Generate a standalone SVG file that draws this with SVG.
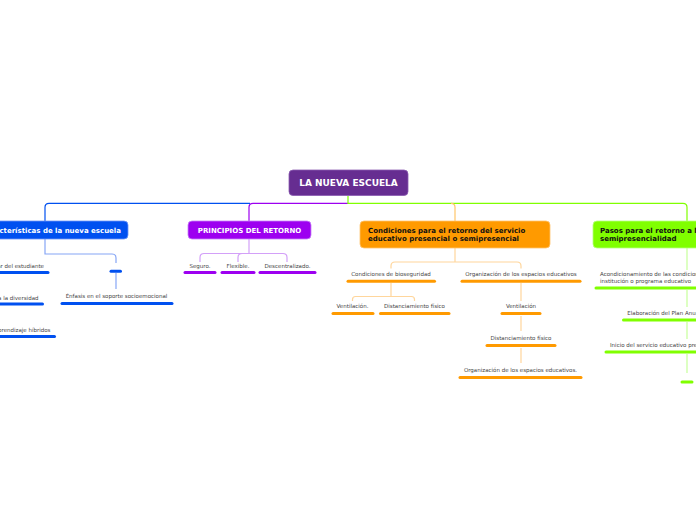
<svg xmlns="http://www.w3.org/2000/svg" width="696" height="520" viewBox="0 0 696 520">
<style>
.t{font-family:"DejaVu Sans",Verdana,sans-serif;font-size:5.5px;fill:#444;}
.tc{text-anchor:middle;}
.te{text-anchor:end;}
.bt{font-family:"DejaVu Sans",Verdana,sans-serif;font-weight:bold;font-size:7px;}
.ul{stroke-width:3;stroke-linecap:round;fill:none;}
.c{fill:none;stroke-width:1.2;}
.blue{stroke:#0050f0;}
.lblue{stroke:#86a6f6;}
.purple{stroke:#9d00f0;}
.lpurple{stroke:#d3a0f8;}
.orange{stroke:#ff9a00;}
.lorange{stroke:#ffd69c;}
.green{stroke:#80ff00;}
.lgreen{stroke:#c6ff9a;}
</style>
<rect width="696" height="520" fill="#ffffff"/>
<g id="connectors">
<path class="c blue" d="M250 203.3 H49 Q45 203.3 45 207.3 V221"/>
<path class="c purple" d="M348 203.3 H253 Q249 203.3 249 207.3 V221"/>
<path class="c green" d="M348 196 V203.3 H683 Q687 203.3 687 207.3 V221"/>
<path class="c orange" d="M451 203.3 Q455 203.3 455 207.3 V221" style="stroke:#ffc66a"/>
<path class="c lblue" d="M45 239 V254 H112 Q116 254 116 258 V263"/>
<path class="c lblue" d="M116 273 V289"/>
<path class="c lpurple" d="M249 239 V253.5"/>
<path class="c lpurple" d="M200 262 V257.5 Q200 253.5 204 253.5 H283 Q287 253.5 287 257.5 V262"/>
<path class="c lpurple" d="M238 262 V257.5 Q238 253.5 242 253.5"/>
<path class="c lorange" d="M455 248 V262"/>
<path class="c lorange" d="M391 268.5 V266 Q391 262 395 262 H517 Q521 262 521 266 V268.5"/>
<path class="c lorange" d="M391 283 V296.5"/>
<path class="c lorange" d="M352.5 301 V299.5 Q352.5 296.5 355.5 296.5 H411.5 Q414.5 296.5 414.5 299.5 V301"/>
<path class="c lorange" d="M521 283 V301"/>
<path class="c lorange" d="M521 316 V331"/>
<path class="c lorange" d="M521 348 V363"/>
<path class="c lgreen" d="M687 248 V270"/>
<path class="c lgreen" d="M687 290 V307"/>
<path class="c lgreen" d="M687 322 V339"/>
<path class="c lgreen" d="M687 354 V373"/>
</g>
<g id="root">
<rect x="289" y="170" width="119" height="25.5" rx="4" fill="#662d91" stroke="#8a5bb0" stroke-width="0.8"/>
<text class="bt" x="348.5" y="186" text-anchor="middle" fill="#ffffff" style="font-size:9px">LA NUEVA ESCUELA</text>
</g>
<g id="n-caracteristicas">
<rect x="-10" y="221" width="138" height="18" rx="4" fill="#0050f0" stroke="#6f95f7" stroke-width="0.8"/>
<text class="bt" x="121" y="232.5" text-anchor="end" fill="#ffffff">Características de la nueva escuela</text>
</g>
<g id="n-principios">
<rect x="188" y="221" width="123" height="18" rx="4" fill="#9d00f0" stroke="#c780f8" stroke-width="0.8"/>
<text class="bt" x="249.5" y="232.5" text-anchor="middle" fill="#ffffff">PRINCIPIOS DEL RETORNO</text>
</g>
<g id="n-condiciones">
<rect x="360" y="221" width="190" height="27" rx="4" fill="#ff9a00" stroke="#ffc470" stroke-width="0.8"/>
<text class="bt" x="368" y="233.2" fill="#111">Condiciones para el retorno del servicio</text>
<text class="bt" x="368" y="241.2" fill="#111">educativo presencial o semipresencial</text>
</g>
<g id="n-pasos">
<rect x="593" y="221" width="120" height="27" rx="4" fill="#80ff00" stroke="#b6ff80" stroke-width="0.8"/>
<text class="bt" x="600" y="233.2" fill="#111">Pasos para el retorno a la</text>
<text class="bt" x="600" y="241.2" fill="#111">semipresencialidad</text>
</g>
<g id="n-bienestar">
<text class="t te" x="44" y="268">Bienestar del estudiante</text>
<line class="ul blue" x1="-5" y1="272.5" x2="48" y2="272.5"/>
</g>
<g id="n-diversidad">
<text class="t te" x="38.5" y="300">Atención a la diversidad</text>
<line class="ul blue" x1="-5" y1="304" x2="42.5" y2="304"/>
</g>
<g id="n-hibridos">
<text class="t te" x="50.5" y="332">Modelos de aprendizaje híbridos</text>
<line class="ul blue" x1="-5" y1="336.5" x2="54.5" y2="336.5"/>
</g>
<g id="n-vacio">
<line class="ul blue" x1="111" y1="271.3" x2="120.5" y2="271.3"/>
</g>
<g id="n-enfasis">
<text class="t tc" x="116.5" y="298">Énfasis en el soporte socioemocional</text>
<line class="ul blue" x1="62" y1="303.5" x2="172" y2="303.5"/>
</g>
<g id="n-seguro">
<text class="t tc" x="200" y="268">Seguro.</text>
<line class="ul purple" x1="185" y1="272.5" x2="215" y2="272.5"/>
</g>
<g id="n-flexible">
<text class="t tc" x="238" y="268">Flexible.</text>
<line class="ul purple" x1="222" y1="272.5" x2="254" y2="272.5"/>
</g>
<g id="n-descentralizado">
<text class="t tc" x="287.5" y="268">Descentralizado.</text>
<line class="ul purple" x1="260" y1="272.5" x2="315" y2="272.5"/>
</g>
<g id="n-bioseguridad">
<text class="t tc" x="391" y="276">Condiciones de bioseguridad</text>
<line class="ul orange" x1="348" y1="281.3" x2="434.5" y2="281.3"/>
</g>
<g id="n-organizacion">
<text class="t tc" x="521" y="276">Organización de los espacios educativos</text>
<line class="ul orange" x1="462" y1="281.3" x2="580" y2="281.3"/>
</g>
<g id="n-ventilacion1">
<text class="t tc" x="352.5" y="308">Ventilación.</text>
<line class="ul orange" x1="333" y1="313.6" x2="373" y2="313.6"/>
</g>
<g id="n-distanciamiento1">
<text class="t tc" x="414.5" y="308">Distanciamiento físico</text>
<line class="ul orange" x1="380.5" y1="313.6" x2="449" y2="313.6"/>
</g>
<g id="n-ventilacion2">
<text class="t tc" x="521" y="308">Ventilación</text>
<line class="ul orange" x1="502" y1="313.6" x2="540" y2="313.6"/>
</g>
<g id="n-distanciamiento2">
<text class="t tc" x="521" y="340">Distanciamiento físico</text>
<line class="ul orange" x1="487" y1="345.4" x2="555" y2="345.4"/>
</g>
<g id="n-organizacion2">
<text class="t tc" x="520.5" y="372">Organización de los espacios educativos.</text>
<line class="ul orange" x1="460" y1="377.6" x2="581" y2="377.6"/>
</g>
<g id="n-acondicionamiento">
<text class="t" x="600" y="276">Acondicionamiento de las condiciones de la</text>
<text class="t" x="600" y="283.2">institución o programa educativo</text>
<line class="ul green" x1="596" y1="288" x2="710" y2="288"/>
</g>
<g id="n-elaboracion">
<text class="t" x="627.3" y="315">Elaboración del Plan Anual de Trabajo</text>
<line class="ul green" x1="623.5" y1="320" x2="710" y2="320"/>
</g>
<g id="n-inicio">
<text class="t" x="610" y="346.8">Inicio del servicio educativo presencial</text>
<line class="ul green" x1="606" y1="352" x2="710" y2="352"/>
</g>
<g id="n-vacio2">
<line class="ul green" x1="682" y1="382" x2="692" y2="382"/>
</g>
</svg>
